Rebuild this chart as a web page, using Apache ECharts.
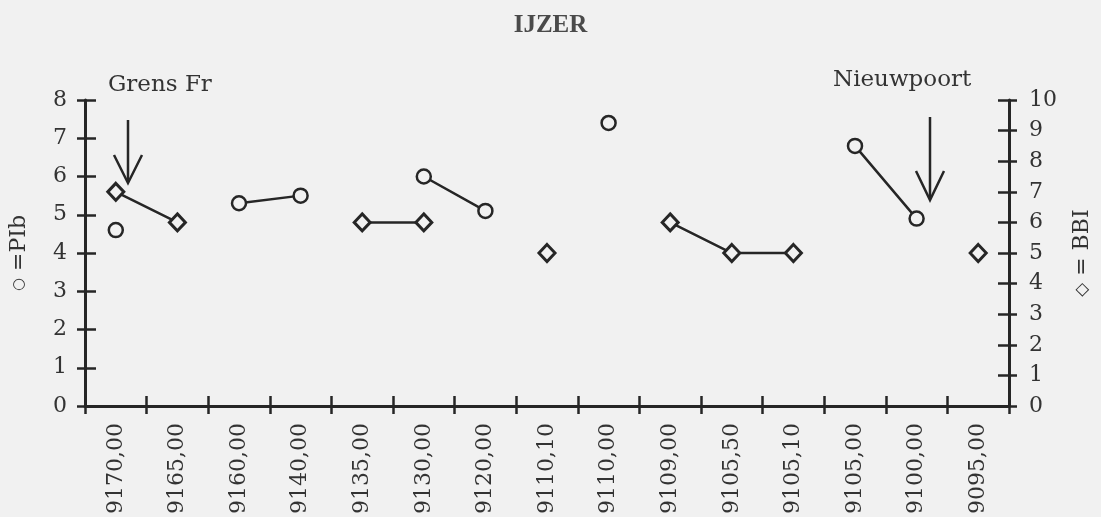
<!DOCTYPE html>
<html>
<head>
<meta charset="utf-8">
<script src="https://cdn.jsdelivr.net/npm/echarts@6/dist/echarts.min.js"></script>
<style>
html,body{margin:0;padding:0;background:#f1f1f1;}
#c{width:1101px;height:517px;}
</style>
</head>
<body>
<div id="c"></div>
<script>
// ---- data ----
var categories = ['9170,00','9165,00','9160,00','9140,00','9135,00','9130,00','9120,00','9110,10','9110,00','9109,00','9105,50','9105,10','9105,00','9100,00','9095,00'];
var pibValues = [4.6, null, 5.3, 5.5, null, 6.0, 5.1, null, 7.4, null, null, null, 6.8, 4.9, null];
var bbiValues = [7, 6, null, null, 6, 6, null, 5, null, 6, 5, 5, null, null, 5];
var leftTicks = {min: 0, max: 8, interval: 1};
var rightTicks = {min: 0, max: 10, interval: 1};

var INK = '#262626';
var BG = '#f1f1f1';
var FONT = 'DejaVu Serif';

function xAxisBase(inside) {
  return {
    type: 'category', data: categories, position: 'bottom', boundaryGap: true,
    axisLine: {show: !inside, lineStyle: {color: INK, width: 3}},
    axisTick: {show: true, inside: inside, length: inside ? 10 : 8, alignWithLabel: false, lineStyle: {color: INK, width: 2.5}},
    axisLabel: inside ? {show: false} : {show: true, rotate: 90, margin: 17, fontFamily: FONT, fontSize: 22, color: '#333'},
    splitLine: {show: false}
  };
}
function yAxisBase(pos, ticks, inside, extra) {
  var a = {
    type: 'value', position: pos, min: ticks.min, max: ticks.max, interval: ticks.interval,
    axisLine: {show: !inside, onZero: false, lineStyle: {color: INK, width: 3}},
    axisTick: {show: true, inside: inside, length: inside ? 11 : 8, lineStyle: {color: INK, width: 2.5}},
    axisLabel: inside ? {show: false} : {show: true, margin: pos === 'left' ? 18 : 20, fontFamily: FONT, fontSize: 22, color: '#333'},
    splitLine: {show: false}
  };
  if (extra) for (var k in extra) a[k] = extra[k];
  return a;
}

var chart = echarts.init(document.getElementById('c'), null, {renderer: 'canvas'});
chart.setOption({
  backgroundColor: BG,
  animation: false,
  title: {
    text: 'IJZER', left: 'center', top: 8,
    textStyle: {fontFamily: 'Liberation Serif', fontWeight: 'bold', fontSize: 25, color: '#4a4a4a'}
  },
  grid: {left: 83, right: 86, top: 100, bottom: 107, containLabel: false},
  xAxis: [xAxisBase(false), xAxisBase(true)],
  yAxis: [
    yAxisBase('left', leftTicks, false, {
      name: '{s|○} =PIb', nameLocation: 'middle', nameRotate: 90, nameGap: 55,
      nameTextStyle: {fontFamily: FONT, fontSize: 22, color: '#333', rich: {s: {fontSize: 15, fontFamily: FONT, color: '#333'}}}
    }),
    yAxisBase('left', leftTicks, true),
    yAxisBase('right', rightTicks, false, {
      name: '{s|◇} = BBI', nameLocation: 'middle', nameRotate: 90, nameGap: 62,
      nameTextStyle: {fontFamily: FONT, fontSize: 22, color: '#333', rich: {s: {fontSize: 18, fontFamily: 'DejaVu Sans', color: '#333'}}}
    }),
    yAxisBase('right', rightTicks, true)
  ],
  series: [
    {
      name: 'PIb', type: 'line', xAxisIndex: 0, yAxisIndex: 0, data: pibValues,
      connectNulls: false, showSymbol: true, showAllSymbol: true,
      symbol: 'circle', symbolSize: 14,
      lineStyle: {color: INK, width: 2.5},
      itemStyle: {color: BG, borderColor: INK, borderWidth: 2.5},
      z: 5
    },
    {
      name: 'BBI', type: 'line', xAxisIndex: 0, yAxisIndex: 2, data: bbiValues,
      connectNulls: false, showSymbol: true, showAllSymbol: true,
      symbol: 'diamond', symbolSize: [16, 17],
      lineStyle: {color: INK, width: 2.5},
      itemStyle: {color: BG, borderColor: INK, borderWidth: 3},
      z: 5
    }
  ],
  graphic: [
    {type: 'text', left: 108, top: 74, style: {text: 'Grens Fr', fontFamily: FONT, fontSize: 23, fill: '#333'}},
    {type: 'text', left: 833, top: 69, style: {text: 'Nieuwpoort', fontFamily: FONT, fontSize: 23, fill: '#333'}},
    {type: 'polyline', shape: {points: [[128, 120], [128, 182]]}, style: {stroke: INK, lineWidth: 2.5, fill: null}},
    {type: 'polyline', shape: {points: [[114, 155], [128, 183], [142, 155]]}, style: {stroke: INK, lineWidth: 2.5, fill: null}},
    {type: 'polyline', shape: {points: [[930, 117], [930, 199]]}, style: {stroke: INK, lineWidth: 2.5, fill: null}},
    {type: 'polyline', shape: {points: [[916, 171], [930, 200], [944, 171]]}, style: {stroke: INK, lineWidth: 2.5, fill: null}}
  ]
});
</script>
</body>
</html>
